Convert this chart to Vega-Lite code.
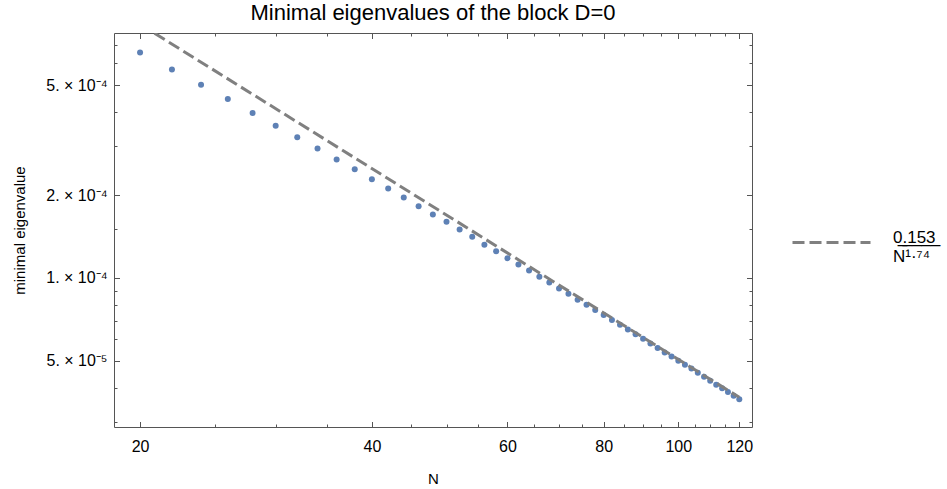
{
  "$schema": "https://vega.github.io/schema/vega-lite/v6.json",
  "width": 638,
  "height": 394,
  "autosize": "none",
  "padding": {"left": 114, "top": 33, "right": 195, "bottom": 62},
  "title": {
    "text": "Minimal eigenvalues of the block D=0",
    "font": "Liberation Sans",
    "fontSize": 22,
    "fontWeight": "normal",
    "color": "#000000",
    "anchor": "middle",
    "offset": 8
  },
  "config": {
    "view": {"stroke": null},
    "font": "Liberation Sans",
    "axis": {
      "domainColor": "#555555",
      "tickColor": "#555555",
      "labelColor": "#000000",
      "labelFont": "Liberation Sans",
      "labelFontSize": 16,
      "titleFont": "Liberation Sans",
      "titleFontSize": 15,
      "titleFontWeight": "normal",
      "titleColor": "#000000",
      "grid": false
    }
  },
  "datasets": {
    "points": [
      {"N": 20, "eigenvalue": 0.000657},
      {"N": 22, "eigenvalue": 0.000570},
      {"N": 24, "eigenvalue": 0.000502},
      {"N": 26, "eigenvalue": 0.000446},
      {"N": 28, "eigenvalue": 0.000397},
      {"N": 30, "eigenvalue": 0.000357},
      {"N": 32, "eigenvalue": 0.000324},
      {"N": 34, "eigenvalue": 0.000295},
      {"N": 36, "eigenvalue": 0.000269},
      {"N": 38, "eigenvalue": 0.000248},
      {"N": 40, "eigenvalue": 0.000228},
      {"N": 42, "eigenvalue": 0.000211},
      {"N": 44, "eigenvalue": 0.000196},
      {"N": 46, "eigenvalue": 0.000182},
      {"N": 48, "eigenvalue": 0.000170},
      {"N": 50, "eigenvalue": 0.000160},
      {"N": 52, "eigenvalue": 0.000150},
      {"N": 54, "eigenvalue": 0.000141},
      {"N": 56, "eigenvalue": 0.000132},
      {"N": 58, "eigenvalue": 0.000125},
      {"N": 60, "eigenvalue": 0.000118},
      {"N": 62, "eigenvalue": 0.000112},
      {"N": 64, "eigenvalue": 0.0001065},
      {"N": 66, "eigenvalue": 0.000101},
      {"N": 68, "eigenvalue": 0.0000963},
      {"N": 70, "eigenvalue": 0.0000916},
      {"N": 72, "eigenvalue": 0.0000876},
      {"N": 74, "eigenvalue": 0.0000834},
      {"N": 76, "eigenvalue": 0.0000799},
      {"N": 78, "eigenvalue": 0.0000765},
      {"N": 80, "eigenvalue": 0.0000734},
      {"N": 82, "eigenvalue": 0.0000704},
      {"N": 84, "eigenvalue": 0.0000676},
      {"N": 86, "eigenvalue": 0.0000650},
      {"N": 88, "eigenvalue": 0.0000625},
      {"N": 90, "eigenvalue": 0.0000602},
      {"N": 92, "eigenvalue": 0.0000579},
      {"N": 94, "eigenvalue": 0.0000557},
      {"N": 96, "eigenvalue": 0.0000537},
      {"N": 98, "eigenvalue": 0.0000519},
      {"N": 100, "eigenvalue": 0.0000501},
      {"N": 102, "eigenvalue": 0.0000484},
      {"N": 104, "eigenvalue": 0.0000469},
      {"N": 106, "eigenvalue": 0.0000453},
      {"N": 108, "eigenvalue": 0.0000438},
      {"N": 110, "eigenvalue": 0.0000424},
      {"N": 112, "eigenvalue": 0.0000410},
      {"N": 114, "eigenvalue": 0.0000398},
      {"N": 116, "eigenvalue": 0.0000386},
      {"N": 118, "eigenvalue": 0.0000374},
      {"N": 120, "eigenvalue": 0.0000363}
    ],
    "fit": [
      {"N": 20, "eigenvalue": 0.000833, "series": "fit"},
      {"N": 120, "eigenvalue": 0.0000369, "series": "fit"}
    ]
  },
  "layer": [
    {
      "data": {"name": "points"},
      "mark": {"type": "point", "filled": true, "size": 36, "color": "#5E81B5", "opacity": 1},
      "encoding": {
        "x": {
          "field": "N",
          "type": "quantitative",
          "scale": {"type": "log", "domain": [18.5, 124.65], "nice": false, "zero": false},
          "axis": {
            "orient": "bottom",
            "title": "N",
            "values": [20, 25, 30, 35, 40, 45, 50, 55, 60, 65, 70, 75, 80, 85, 90, 95, 100, 105, 110, 115, 120],
            "labelExpr": "datum.value % 20 == 0 ? datum.value : ''",
            "tickSize": {"condition": {"test": "datum.value % 20 == 0", "value": -5.5}, "value": -3},
            "labelPadding": 17,
            "titlePadding": 14,
            "labelFlush": false,
            "labelOverlap": false
          }
        },
        "y": {
          "field": "eigenvalue",
          "type": "quantitative",
          "scale": {"type": "log", "domain": [0.0000288, 0.000774], "nice": false, "zero": false},
          "axis": {
            "orient": "left",
            "title": "minimal eigenvalue",
            "values": [0.00003, 0.00004, 0.00005, 0.00006, 0.00007, 0.00008, 0.00009, 0.0001, 0.00015, 0.0002, 0.0003, 0.0004, 0.0005, 0.0006, 0.0007],
            "labelExpr": "abs(datum.value-5e-4)<1e-9 ? '5. × 10⁻⁴' : abs(datum.value-2e-4)<1e-9 ? '2. × 10⁻⁴' : abs(datum.value-1e-4)<1e-9 ? '1. × 10⁻⁴' : abs(datum.value-5e-5)<1e-10 ? '5. × 10⁻⁵' : ''",
            "tickSize": {"condition": {"test": "abs(datum.value-5e-4)<1e-9 || abs(datum.value-2e-4)<1e-9 || abs(datum.value-1e-4)<1e-9 || abs(datum.value-5e-5)<1e-10", "value": -5.5}, "value": -3},
            "labelPadding": 12.5,
            "titlePadding": 18,
            "labelFlush": false,
            "labelOverlap": false
          }
        }
      }
    },
    {
      "data": {"name": "fit"},
      "mark": {"type": "line", "clip": true, "strokeWidth": 3, "color": "#808080"},
      "encoding": {
        "x": {
          "field": "N",
          "type": "quantitative",
          "axis": {
            "orient": "top",
            "title": null,
            "labels": false,
            "values": [20, 25, 30, 35, 40, 45, 50, 55, 60, 65, 70, 75, 80, 85, 90, 95, 100, 105, 110, 115, 120],
            "tickSize": {"condition": {"test": "datum.value % 20 == 0", "value": -5.5}, "value": -3}
          }
        },
        "y": {
          "field": "eigenvalue",
          "type": "quantitative",
          "axis": {
            "orient": "right",
            "title": null,
            "labels": false,
            "values": [0.00003, 0.00004, 0.00005, 0.00006, 0.00007, 0.00008, 0.00009, 0.0001, 0.00015, 0.0002, 0.0003, 0.0004, 0.0005, 0.0006, 0.0007],
            "tickSize": {"condition": {"test": "abs(datum.value-5e-4)<1e-9 || abs(datum.value-2e-4)<1e-9 || abs(datum.value-1e-4)<1e-9 || abs(datum.value-5e-5)<1e-10", "value": -5.5}, "value": -3}
          }
        },
        "strokeDash": {
          "field": "series",
          "type": "nominal",
          "scale": {"range": [[12, 5]]},
          "legend": {
            "orient": "none",
            "legendX": 677,
            "legendY": 169,
            "title": null,
            "padding": 0,
            "symbolType": "stroke",
            "symbolSize": 6084,
            "symbolStrokeWidth": 3,
            "symbolStrokeColor": "#808080",
            "symbolDash": [12, 4.5],
            "labelFont": "Liberation Sans",
            "labelFontSize": 17,
            "labelColor": "#000000",
            "labelOffset": 21,
            "labelLimit": 200,
            "labelBaseline": "alphabetic",
            "labelExpr": "['0̲.̲1̲5̲3̲', 'N¹·⁷⁴']",
            "labelLineHeight": 22
          }
        }
      }
    }
  ],
  "resolve": {"axis": {"x": "independent", "y": "independent"}}
}
